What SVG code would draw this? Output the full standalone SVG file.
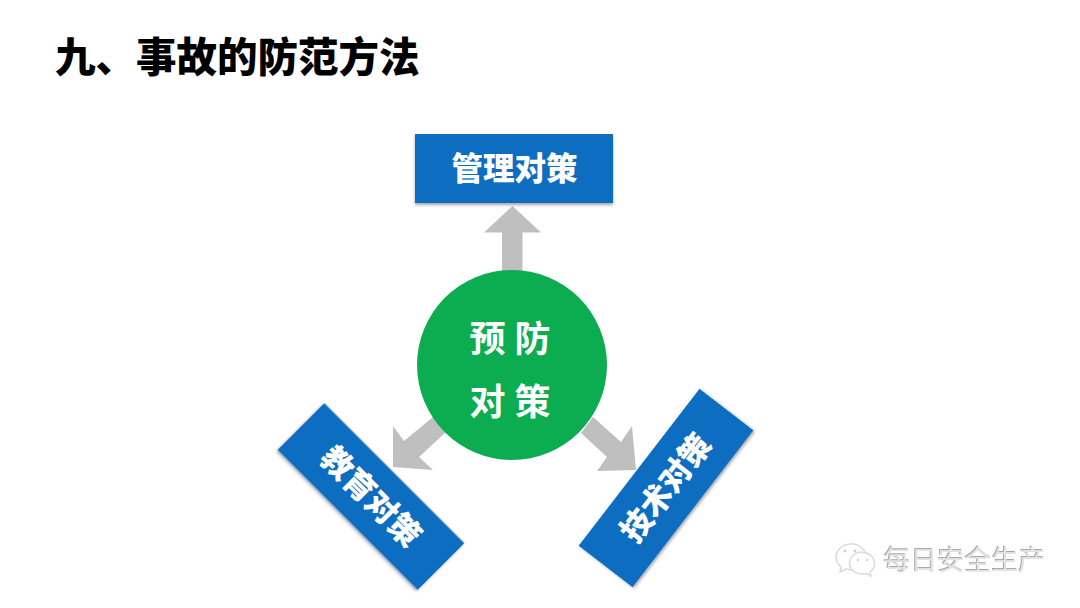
<svg xmlns="http://www.w3.org/2000/svg" width="1080" height="608" viewBox="0 0 1080 608">
<style>
text{font-family:"Noto Sans CJK SC","Liberation Sans",sans-serif;font-weight:700;text-anchor:middle}
.box{fill:#086dc0;filter:url(#sh)}
.lb{fill:#fff;font-size:31.5px;font-weight:900}
.ar{fill:#bfbfbf}
.ct{fill:#fff;font-size:36px;letter-spacing:9px}
.ic{fill:#fff;stroke:#dcdcdc;stroke-width:1.6;stroke-linejoin:round}
</style>
<defs>
<filter id="sh" x="-10%" y="-20%" width="120%" height="140%"><feDropShadow dx="0" dy="2" stdDeviation="1.8" flood-color="#000" flood-opacity=".35"/></filter>
<filter id="em" x="-5%" y="-20%" width="110%" height="140%"><feOffset in="SourceAlpha" dx="-.8" dy="-.8" result="o"/><feFlood flood-color="#a8a8a8"/><feComposite in2="o" operator="in" result="d"/><feMerge><feMergeNode in="d"/><feMergeNode in="SourceGraphic"/></feMerge></filter>
</defs>
<rect width="1080" height="608" fill="#fff"/>
<text id="title" x="55" y="72" font-size="40.5" style="text-anchor:start;font-weight:900" fill="#000">九、事故的防范方法</text>
<g id="connectors">
<polygon class="ar" points="512.5,206 541,232.5 522.5,232.5 522.5,272 502,272 502,232.5 484,232.5"/>
<polygon class="ar" points="393,467 393,426 404,441 433,417 446,432 419,457 433,470"/>
<polygon class="ar" points="636,470 632,426 621,442 593,417 581,433 607,457 597,471"/>
</g>
<g id="node-manage"><rect class="box" x="415" y="134" width="198" height="69"/><text class="lb" x="514.500" y="180">管理对策</text></g>
<g id="node-center"><circle cx="512" cy="365" r="95" fill="#0cad50"/><text class="ct" x="514.500" y="352">预防</text><text class="ct" x="514.500" y="415">对策</text></g>
<g id="node-edu" transform="rotate(45 371 496.500)"><rect class="box" x="272" y="463.500" width="198" height="66"/><text class="lb" x="371" y="508">教育对策</text></g>
<g id="node-tech" transform="rotate(-52.400 666 488)"><rect class="box" x="567" y="454" width="198" height="68"/><text class="lb" x="666" y="499">技术对策</text></g>
<g id="watermark">
<path class="ic" d="M851 544c-8 0-15 6-15 13 0 4 2 7 5 10l-1 5 6-3c2 .5 3 .7 5 .7 8 0 15-6 15-13s-7-13-15-13z"/>
<path class="ic" d="M862 552c-7 0-12.500 5-12.500 11s5.500 11 12.500 11c1.500 0 3-.2 4-.6l5 3-1-4.500c3-2 4.500-5 4.500-8.500 0-6-5.500-11-12.500-11z"/>
<g fill="#cfcfcf"><circle cx="845" cy="551" r="1.400"/><circle cx="855" cy="551" r="1.400"/><circle cx="858" cy="560" r="1.200"/><circle cx="867" cy="560" r="1.200"/></g>
<text x="964.500" y="570" font-size="27" fill="#e2e2e2" filter="url(#em)" style="font-weight:400">每日安全生产</text>
</g>
</svg>
